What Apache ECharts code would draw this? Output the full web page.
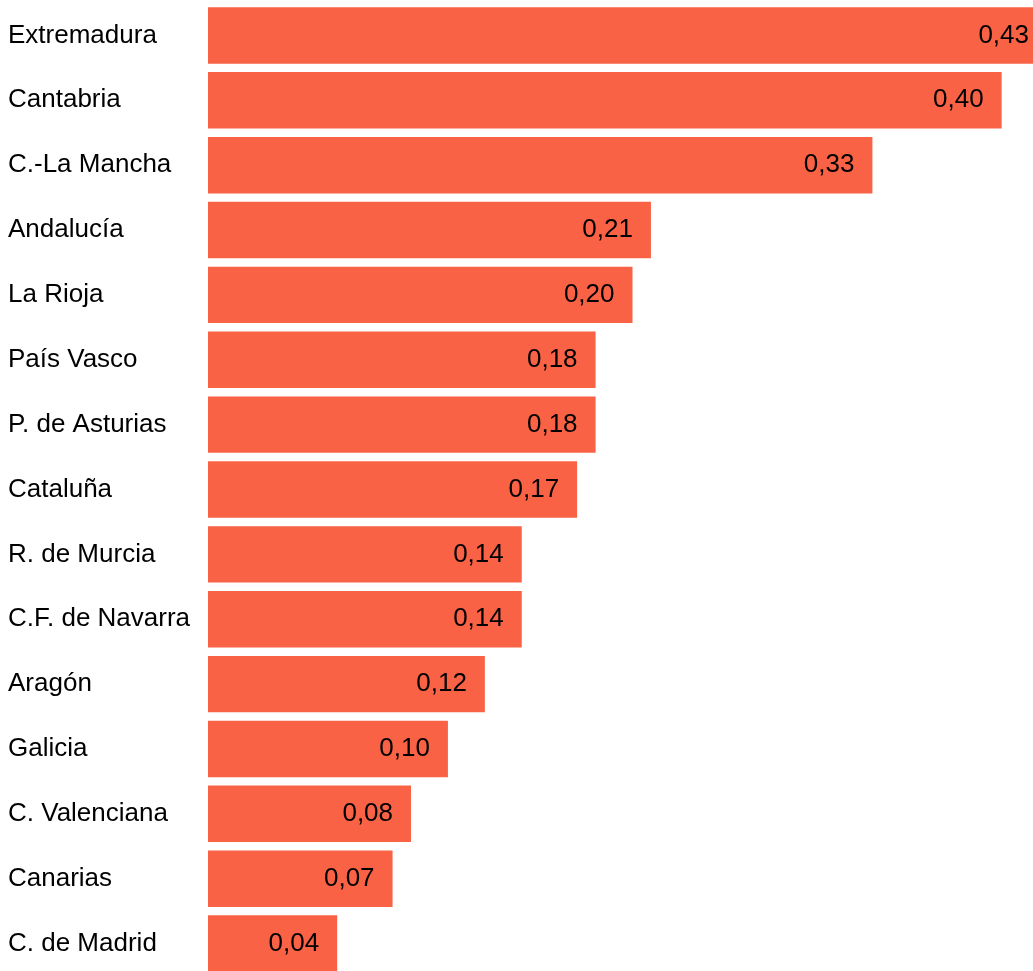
<!DOCTYPE html>
<html>
<head>
<meta charset="utf-8">
<script src="https://cdn.jsdelivr.net/npm/echarts@6/dist/echarts.min.js"></script>
<style>
    html, body { margin: 0; padding: 0; background: #fff; }
    #chart { width: 1033px; height: 971px; }
</style>
</head>
<body>
<div id="chart"></div>
<script>
// regiones, de mayor a menor
var regiones = ['Extremadura', 'Cantabria', 'C.-La Mancha', 'Andalucía', 'La Rioja', 'País Vasco',
    'P. de Asturias', 'Cataluña', 'R. de Murcia', 'C.F. de Navarra', 'Aragón', 'Galicia',
    'C. Valenciana', 'Canarias', 'C. de Madrid'];
var valores = [0.43, 0.40, 0.33, 0.21, 0.20, 0.18, 0.18, 0.17, 0.14, 0.14, 0.12, 0.10, 0.08, 0.07, 0.04];

var ejeMin = -0.03;
var ejeMax = 0.417;
var fuente = 'Liberation Sans, Arial, sans-serif';

var myChart = echarts.init(document.getElementById('chart'));

// barras desde el inicio del eje (no desde 0)
function barra(params, api) {
    var y = api.value(0);
    var v = api.value(1);
    var ini = api.coord([ejeMin, y]);
    var fin = api.coord([v, y]);
    var cs = params.coordSys;
    var limite = cs.x + cs.width;
    var cortada = fin[0] > limite;
    var xFin = cortada ? limite : fin[0];
    var h = api.size([0, 1])[1] * 0.87;
    return {
        type: 'rect',
        shape: {x: ini[0], y: ini[1] - h / 2, width: xFin - ini[0], height: h},
        style: {fill: '#fa6246'},
        textContent: {
            style: {
                text: v.toFixed(2).replace('.', ','),
                fill: '#000',
                fontSize: 26,
                fontFamily: fuente
            }
        },
        textConfig: {position: 'insideRight', distance: cortada ? 4 : 18}
    };
}

var option = {
    backgroundColor: '#fff',
    animation: false,
    grid: {
        left: 208,
        right: 0,
        top: 3,
        bottom: -5,
        containLabel: false,
        outerBoundsMode: 'none'
    },
    xAxis: {
        type: 'value',
        min: ejeMin,
        max: ejeMax,
        show: false
    },
    yAxis: {
        type: 'category',
        inverse: true,
        data: regiones,
        axisLine: {show: false},
        axisTick: {show: false},
        axisLabel: {
            align: 'left',
            margin: 200,
            color: '#000',
            fontSize: 26,
            padding: [3, 0, 0, 0],
            fontFamily: fuente
        }
    },
    series: [{
        type: 'custom',
        renderItem: barra,
        encode: {y: 0, x: 1},
        data: regiones.map(function (r, i) { return [i, valores[i]]; })
    }]
};
myChart.setOption(option);
</script>
</body>
</html>
